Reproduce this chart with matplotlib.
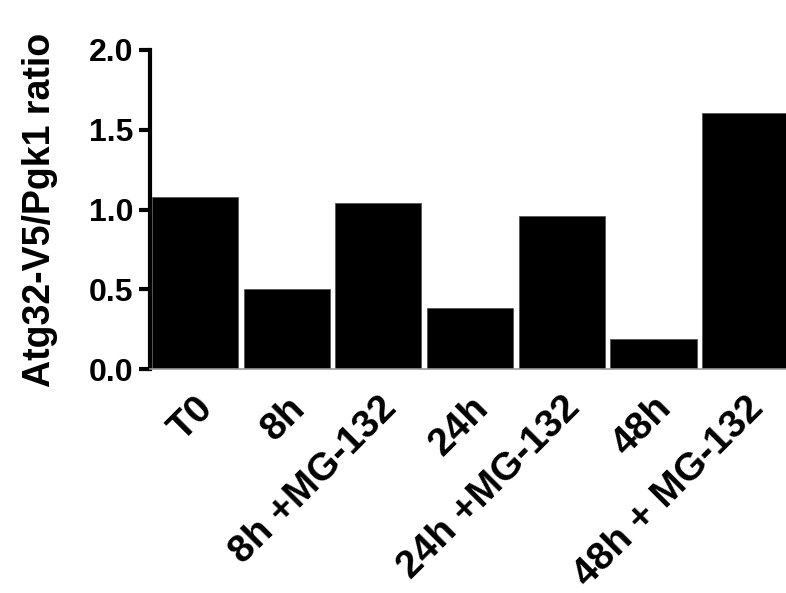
import numpy as np
from matplotlib import pyplot as plt

categories = ['T0', '8h', '8h +MG-132', '24h', '24h +MG-132', '48h', '48h + MG-132']
ratios = [1.08, 0.50, 1.04, 0.38, 0.96, 0.186, 1.607]
yticks = [0.0, 0.5, 1.0, 1.5, 2.0]
ytick_labels = ['0.0', '0.5', '1.0', '1.5', '2.0']


def main():
    plt.rcParams['font.family'] = ['Liberation Sans', 'DejaVu Sans']
    plt.rcParams['font.weight'] = 'bold'

    fig = plt.figure(figsize=(7.86, 5.93), dpi=100)
    ax = fig.add_axes([0.1908, 0.3777, 0.8092, 0.538])

    x = np.arange(len(categories))
    ax.bar(x, ratios, width=0.94, color='black', edgecolor='#555555', linewidth=0.6)

    ax.set_xlim(-0.49, 6.445)
    ax.set_ylim(0, 2.0)

    ax.spines['top'].set_visible(False)
    ax.spines['right'].set_visible(False)
    ax.spines['left'].set_linewidth(3)
    ax.spines['bottom'].set_color('#999999')
    ax.spines['bottom'].set_linewidth(1.2)

    ax.tick_params(axis='y', direction='out', length=8, width=3, pad=4, labelsize=23)
    ax.tick_params(axis='x', length=0, pad=15, labelsize=28)

    ax.set_yticks(yticks)
    ax.set_yticklabels(ytick_labels, fontweight='bold')

    ax.set_xticks(x)
    ax.set_xticklabels(categories, fontweight='bold', rotation=45,
                       ha='right', rotation_mode='anchor')

    ax.set_ylabel('Atg32-V5/Pgk1 ratio', fontsize=27, fontweight='bold', labelpad=22)

    fig.savefig('out.png', dpi=100)


if __name__ == '__main__':
    main()
